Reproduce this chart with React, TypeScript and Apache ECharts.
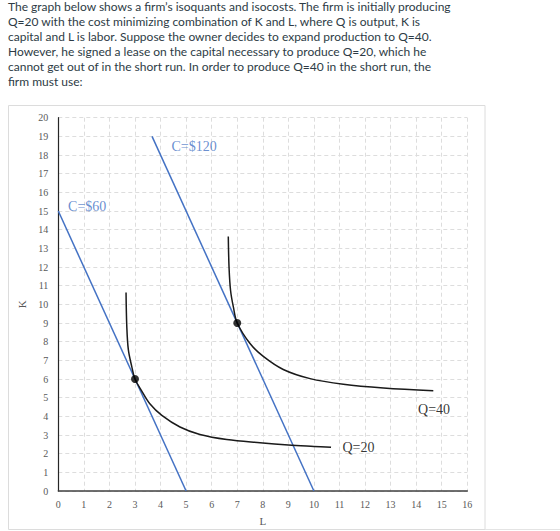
import React, { useEffect, useRef } from "react";
import * as echarts from "echarts";

const questionLines = [
  "The graph below shows a firm\u2019s isoquants and isocosts. The firm is initially producing",
  "Q=20 with the cost minimizing combination of K and L, where Q is output, K is",
  "capital and L is labor. Suppose the owner decides to expand production to Q=40.",
  "However, he signed a lease on the capital necessary to produce Q=20, which he",
  "cannot get out of in the short run. In order to produce Q=40 in the short run, the",
  "firm must use:",
];

const isocost60: number[][] = [[0, 15], [5, 0]];
const isocost120: number[][] = [[3.667, 19], [10, 0]];

const isoquant20: number[][] = [
  [2.65, 10.64], [2.68, 8.8], [2.74, 7.57], [2.87, 6.69], [3.0, 6.0],
  [3.26, 5.37], [3.59, 4.66], [4.05, 4.05], [4.76, 3.43], [5.54, 3.03],
  [6.59, 2.76], [7.89, 2.59], [9.0, 2.47], [10.0, 2.39], [10.67, 2.34],
];

const isoquant40: number[][] = [
  [6.65, 13.64], [6.68, 11.96], [6.74, 10.73], [6.85, 9.85], [7.0, 9.0],
  [7.5, 7.9], [8.02, 7.21], [8.8, 6.51], [9.85, 6.02], [11.15, 5.72],
  [12.72, 5.52], [14.67, 5.37],
];

const optimumPoints: number[][] = [[3, 6], [7, 9]];

const curveLabels = [
  { name: "C=$60", value: [1.13, 15.22], color: "#4472C4" },
  { name: "C=$120", value: [5.31, 18.47], color: "#4472C4" },
  { name: "Q=40", value: [14.7, 4.36], color: "#000000" },
  { name: "Q=20", value: [11.74, 2.34], color: "#000000" },
];

const SERIF = "'Liberation Serif', 'Times New Roman', serif";

export default function App() {
  const ref = useRef<HTMLDivElement>(null);

  useEffect(() => {
    if (!ref.current) return;
    const chart = echarts.init(ref.current, undefined, { renderer: "svg" });

    const textGraphics = questionLines.map((t, i) => ({
      type: "text",
      left: 8,
      top: 0 + i * 15.08,
      style: {
        text: t,
        font: "12px Lato, sans-serif",
        fill: "#2D3B45",
      },
    }));

    const lineStyleBlue = { color: "#4472C4", width: 1.5 };
    const lineStyleBlack = { color: "#1a1a1a", width: 1.5 };

    chart.setOption({
      animation: false,
      backgroundColor: "#ffffff",
      graphic: [
        ...textGraphics,
        {
          type: "rect",
          shape: { x: 8.5, y: 105.5, width: 476.5, height: 424 },
          style: { fill: "none", stroke: "#dcdcdc", lineWidth: 1 },
          silent: true,
        },
        {
          type: "line",
          shape: { x1: 485, y1: 529.5, x2: 560, y2: 529.5 },
          style: { stroke: "#e4e4e4", lineWidth: 1 },
          silent: true,
        },
      ],
      grid: { left: 58.3, right: 92.7, top: 117.7, bottom: 34.3, containLabel: false },
      xAxis: {
        type: "value",
        min: 0,
        max: 16,
        interval: 1,
        name: "L",
        nameLocation: "middle",
        nameGap: 24,
        nameTextStyle: { fontFamily: SERIF, fontSize: 11, color: "#595959" },
        axisLine: { show: true, onZero: false, lineStyle: { color: "#404040", width: 1.5 } },
        axisTick: { show: false },
        axisLabel: { fontFamily: SERIF, fontSize: 10, color: "#595959", margin: 8 },
        splitLine: { show: true, lineStyle: { color: "#dddddd", type: [4, 3], width: 1 } },
      },
      yAxis: {
        type: "value",
        min: 0,
        max: 20,
        interval: 1,
        name: "K",
        nameLocation: "middle",
        nameGap: 28,
        nameRotate: 90,
        nameTextStyle: { fontFamily: SERIF, fontSize: 11, color: "#595959" },
        axisLine: { show: true, onZero: false, lineStyle: { color: "#262626", width: 1.2 } },
        axisTick: { show: false },
        axisLabel: { fontFamily: SERIF, fontSize: 10, color: "#595959", margin: 10 },
        splitLine: { show: true, lineStyle: { color: "#dddddd", type: [4, 3], width: 1 } },
      },
      series: [
        {
          type: "line",
          name: "C=$60",
          data: isocost60,
          showSymbol: false,
          lineStyle: lineStyleBlue,
          silent: true,
        },
        {
          type: "line",
          name: "C=$120",
          data: isocost120,
          showSymbol: false,
          lineStyle: lineStyleBlue,
          silent: true,
        },
        {
          type: "line",
          name: "Q=20",
          data: isoquant20,
          showSymbol: false,
          smooth: 0.35,
          lineStyle: lineStyleBlack,
          silent: true,
        },
        {
          type: "line",
          name: "Q=40",
          data: isoquant40,
          showSymbol: false,
          smooth: 0.35,
          lineStyle: lineStyleBlack,
          silent: true,
        },
        {
          type: "scatter",
          name: "optimum",
          data: optimumPoints,
          symbolSize: 8,
          itemStyle: { color: "#000000" },
          silent: true,
          z: 5,
        },
        {
          type: "scatter",
          name: "labels",
          symbolSize: 0,
          silent: true,
          data: curveLabels.map((l) => ({
            name: l.name,
            value: l.value,
            label: {
              show: true,
              position: "inside",
              formatter: l.name,
              fontFamily: SERIF,
              fontSize: 14,
              color: l.color,
            },
          })),
        },
      ],
    });

    return () => chart.dispose();
  }, []);

  return (
    <div
      ref={ref}
      style={{ position: "absolute", left: 0, top: 0, width: 560, height: 531 }}
    />
  );
}
